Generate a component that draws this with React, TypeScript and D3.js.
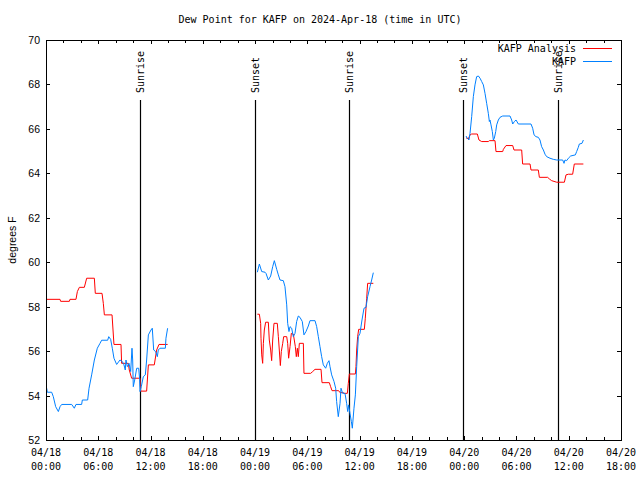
import React from "react";
import * as d3 from "d3";

const START_MS = Date.UTC(2024, 3, 18, 0, 0);
const SPAN_HOURS = 66;

const titleText = "Dew Point for KAFP on 2024-Apr-18 (time in UTC)";
const yLabelText = "degrees F";
const seriesNames = ["KAFP Analysis", "KAFP"];
const seriesColors = ["#ff0000", "#0080ff"];

// hours since 2024-04-18 00:00 UTC
const analysisHours = [
  0.08, 1.61, 1.68, 2.68, 2.75, 3.44, 3.6, 3.83, 4.4, 4.67, 5.55, 5.66, 6.43, 6.58, 6.7, 7.58, 7.8, 8.61, 8.68, 9.45,
  9.56, 9.83, 10.79, 10.87, 11.55, 11.75, 12.43, 12.7, 12.97, 13.96,
  24.26, 24.49, 24.64, 24.68, 24.76, 24.87, 24.95, 25.06, 25.21, 25.52, 25.63, 25.79, 25.9, 26.02, 26.17, 26.55, 26.67,
  26.78, 26.9, 27.01, 27.17, 27.28, 27.63, 27.74, 27.85, 28.01, 28.16, 28.39, 28.5, 28.62, 28.73, 28.85, 28.96, 29.08,
  29.54, 29.61, 30.38, 30.61, 30.88, 31.57, 31.68, 32.52, 32.67, 32.83, 33.59, 33.75, 34.13, 34.21, 34.59, 34.7, 34.82,
  35.51, 35.58, 35.66, 35.77, 35.89, 36.54, 36.65, 36.81, 36.92, 37.57,
  48.21, 48.48, 48.67, 48.86, 49.51, 49.7, 50.01, 50.77, 50.89, 51.54, 51.65, 52.42, 52.5, 52.8, 53.57, 53.72, 54.6,
  54.71, 55.56, 55.67, 56.51, 56.63, 57.58, 57.77, 58.04, 58.62, 59.5, 59.69, 59.96, 60.45, 60.64, 61.68,
];
const analysisValues = [
  58.33, 58.33, 58.24, 58.24, 58.33, 58.33, 58.68, 58.87, 58.87, 59.28, 59.28, 58.6, 58.6, 58.15, 57.63, 57.63, 56.3,
  56.3, 55.45, 55.45, 55.15, 54.78, 54.78, 54.2, 54.2, 55.38, 55.38, 56.05, 56.3, 56.3,
  57.66, 57.66, 57.25, 56.58, 55.83, 55.45, 56.35, 56.95, 57.3, 57.3, 56.5, 56.05, 55.57, 56.5, 57.25, 57.25, 56.65,
  56.05, 55.35, 55.98, 56.35, 56.65, 56.65, 56.35, 55.68, 56.2, 56.8, 56.76, 56.5, 56.2, 55.75, 56.13, 55.75, 56.35,
  56.35, 55.0, 55.0, 55.08, 55.18, 55.18, 54.58, 54.58, 54.4, 54.22, 54.22, 54.13, 54.13, 54.1, 54.1, 54.55, 54.97,
  54.97, 55.3, 56.05, 56.65, 56.98, 56.98, 57.48, 58.38, 59.05, 59.05,
  65.6, 65.55, 65.73, 65.77, 65.77, 65.5, 65.43, 65.43, 65.47, 65.47, 64.98, 64.98, 65.08, 65.25, 65.25, 65.05, 65.05,
  64.42, 64.42, 64.15, 64.15, 63.82, 63.82, 63.75, 63.67, 63.6, 63.6, 63.93, 63.96, 63.96, 64.42, 64.42,
];

const obsHours = [
  0.08, 0.15, 0.65, 0.84, 1.11, 1.42, 1.61, 1.8, 2.95, 3.25, 3.44, 4.09, 4.17, 4.78, 4.94, 5.24, 5.55, 5.89, 6.2, 6.39,
  7.08, 7.2, 7.42, 7.61, 7.8, 8.11, 8.49, 8.76, 8.95, 9.1, 9.18, 9.34, 9.53, 9.72, 9.87, 9.95, 10.02, 10.18, 10.41,
  10.64, 10.75, 10.79, 10.94, 11.17, 11.4, 11.55, 11.75, 12.05, 12.2, 12.36, 12.59, 12.78, 12.89, 13.08, 13.7, 13.77,
  13.96,
  24.26, 24.49, 24.76, 25.14, 25.25, 25.52, 25.79, 26.02, 26.21, 26.48, 26.67, 26.86, 27.24, 27.43, 27.63, 27.74, 27.89,
  28.01, 28.2, 28.39, 28.58, 28.77, 28.96, 29.15, 29.42, 29.61, 29.84, 30.11, 30.3, 30.88, 31.07, 31.26, 31.45, 31.64,
  31.83, 32.1, 32.29, 32.48, 32.6, 32.79, 33.06, 33.25, 33.36, 33.55, 33.75, 33.86, 34.05, 34.32, 34.51, 34.63, 34.74,
  34.89, 35.05, 35.16, 35.35, 35.51, 35.66, 35.85, 36.04, 36.27, 36.5, 36.73, 36.92, 37.19, 37.38, 37.57,
  48.21, 48.36, 48.55, 48.67, 48.86, 49.05, 49.24, 49.43, 49.63, 49.82, 50.01, 50.2, 50.39, 50.58, 50.77, 50.89, 50.96,
  51.08, 51.23, 51.35, 51.46, 51.62, 51.73, 51.92, 52.11, 52.42, 53.26, 53.45, 53.57, 53.76, 53.95, 54.22, 55.67, 55.86,
  56.02, 56.24, 56.51, 56.7, 56.89, 57.09, 57.28, 57.47, 57.85, 58.23, 58.62, 59.31, 59.46, 59.57, 59.76, 59.96, 60.22,
  60.76, 60.91, 61.1, 61.22, 61.52, 61.68,
];
const obsValues = [
  54.33, 54.15, 54.15, 53.95, 53.5, 53.28, 53.5, 53.6, 53.6, 53.43, 53.6, 53.6, 53.8, 53.8, 54.33, 54.93, 55.6, 56.13,
  56.35, 56.49, 56.49, 56.65, 56.53, 56.13, 55.68, 55.4, 55.6, 55.53, 55.38, 55.15, 55.6, 55.3, 55.45, 55.08, 56.13, 55.6,
  54.4, 54.7, 55.23, 55.23, 54.73, 54.18, 54.4, 54.85, 54.93, 55.6, 56.73, 56.95, 57.03, 56.05, 55.98, 55.75, 56.05,
  56.13, 56.13, 56.58, 57.03,
  59.55, 59.92, 59.58, 59.55, 59.5, 59.2, 59.38, 59.8, 60.07, 59.68, 59.43, 59.2, 59.17, 58.9, 58.08, 57.25, 56.88, 57.1,
  57.03, 56.65, 56.8, 57.33, 57.58, 57.52, 57.33, 56.73, 56.88, 57.13, 57.37, 57.37, 57.1, 56.65, 56.2, 55.75, 55.38,
  55.23, 55.45, 55.57, 55.3, 54.93, 54.63, 54.33, 53.73, 53.05, 53.65, 54.33, 54.1, 54.1, 53.65, 53.28, 53.58, 53.2,
  52.83, 52.53, 53.43, 54.03, 55.3, 56.65, 56.8, 57.4, 57.93, 57.97, 58.45, 58.9, 59.2, 59.53,
  65.68, 65.58, 65.5, 65.8, 66.55, 67.45, 67.98, 68.35, 68.38, 68.28, 68.13, 67.98, 67.6, 67.15, 66.7, 66.33, 66.4,
  66.18, 65.88, 65.5, 65.58, 65.88, 66.18, 66.4, 66.52, 66.58, 66.58, 66.4, 66.22, 66.33, 66.4, 66.22, 66.22, 66.03,
  65.73, 65.65, 65.62, 65.5, 65.2, 65.05, 64.86, 64.75, 64.68, 64.63, 64.6, 64.6, 64.45, 64.6, 64.57, 64.68, 64.78,
  64.83, 64.98, 65.17, 65.32, 65.35, 65.5,
];

const sunriseHours = [10.82, 34.8, 58.8];
const sunsetHours = [23.97, 47.9];
const yTickValues = [52, 54, 56, 58, 60, 62, 64, 66, 68, 70];

const W = 640;
const H = 480;
const LEFT = 46;
const RIGHT = 621;
const TOP = 40;
const BOTTOM = 440;
const MONO = "'DejaVu Sans Mono', 'Liberation Mono', monospace";
const SANS = "'Liberation Sans', Arial, sans-serif";

const toDate = (h: number) => new Date(START_MS + h * 3600 * 1000);

function segments(hours: number[], values: number[]) {
  const segs: [Date, number][][] = [];
  let cur: [Date, number][] = [];
  hours.forEach((h, i) => {
    if (i > 0 && h - hours[i - 1] > 3) {
      segs.push(cur);
      cur = [];
    }
    cur.push([toDate(h), values[i]]);
  });
  if (cur.length) segs.push(cur);
  return segs;
}

export default function App() {
  const x = d3.scaleUtc().domain([toDate(0), toDate(SPAN_HOURS)]).range([LEFT, RIGHT]);
  const y = d3.scaleLinear().domain([52, 70]).range([BOTTOM, TOP]);
  const line = d3
    .line<[Date, number]>()
    .x((d) => x(d[0]))
    .y((d) => y(d[1]));

  const majorTicks = x.ticks(d3.utcHour.every(6)!);
  const minorTicks = x.ticks(d3.utcHour.every(2)!);
  const fmtDate = d3.utcFormat("%m/%d");
  const fmtTime = d3.utcFormat("%H:%M");

  const series = [
    { name: seriesNames[0], color: seriesColors[0], segs: segments(analysisHours, analysisValues) },
    { name: seriesNames[1], color: seriesColors[1], segs: segments(obsHours, obsValues) },
  ];

  const sunLines = [
    ...sunriseHours.map((h) => ({ h, label: "Sunrise" })),
    ...sunsetHours.map((h) => ({ h, label: "Sunset" })),
  ];

  const px = (v: number) => Math.round(v) + 0.5;

  return (
    <svg
      width={W}
      height={H}
      viewBox={`0 0 ${W} ${H}`}
      style={{ position: "absolute", left: 0, top: 0, background: "#fff" }}
    >
      <rect x={0} y={0} width={W} height={H} fill="#fff" />
      <text x={320} y={23} textAnchor="middle" fontFamily={MONO} fontSize={10} fill="#000">
        {titleText}
      </text>

      {/* minor x ticks */}
      {minorTicks.map((t, i) => (
        <g key={"mx" + i} stroke="#000" strokeWidth={1} shapeRendering="crispEdges">
          <line x1={px(x(t))} x2={px(x(t))} y1={BOTTOM} y2={BOTTOM - 3} />
          <line x1={px(x(t))} x2={px(x(t))} y1={TOP} y2={TOP + 3} />
        </g>
      ))}
      {majorTicks.map((t, i) => (
        <g key={"Mx" + i}>
          <line x1={px(x(t))} x2={px(x(t))} y1={BOTTOM} y2={BOTTOM - 4} stroke="#000" shapeRendering="crispEdges" />
          <line x1={px(x(t))} x2={px(x(t))} y1={TOP} y2={TOP + 4} stroke="#000" shapeRendering="crispEdges" />
          <text x={x(t)} y={456} textAnchor="middle" fontFamily={MONO} fontSize={10} fill="#000">
            {fmtDate(t)}
          </text>
          <text x={x(t)} y={470} textAnchor="middle" fontFamily={MONO} fontSize={10} fill="#000">
            {fmtTime(t)}
          </text>
        </g>
      ))}

      {/* y ticks */}
      {yTickValues.map((v) => (
        <g key={"y" + v}>
          <line x1={LEFT} x2={LEFT + 4} y1={px(y(v))} y2={px(y(v))} stroke="#000" shapeRendering="crispEdges" />
          <line x1={RIGHT - 4} x2={RIGHT} y1={px(y(v))} y2={px(y(v))} stroke="#000" shapeRendering="crispEdges" />
          <text x={40} y={y(v) + 4} textAnchor="end" fontFamily={SANS} fontSize={10.5} fill="#000">
            {v}
          </text>
        </g>
      ))}
      <text
        transform={`translate(16, 240) rotate(-90)`}
        textAnchor="middle"
        fontFamily={SANS}
        fontSize={10.5}
        fill="#000"
      >
        {yLabelText}
      </text>

      {/* sunrise / sunset markers */}
      {sunLines.map((s, i) => (
        <g key={"s" + i}>
          <line
            x1={px(x(toDate(s.h)))}
            x2={px(x(toDate(s.h)))}
            y1={100}
            y2={BOTTOM}
            stroke="#000"
            strokeWidth={1.2}
          />
          <text
            transform={`translate(${x(toDate(s.h)) + 4}, 93) rotate(-90)`}
            fontFamily={MONO}
            fontSize={10}
            fill="#000"
          >
            {s.label}
          </text>
        </g>
      ))}

      {/* data */}
      {series.map((s) =>
        s.segs.map((seg, j) => (
          <path key={s.name + j} d={line(seg) || ""} fill="none" stroke={s.color} strokeWidth={1} />
        ))
      )}

      {/* legend */}
      {series.map((s, i) => (
        <g key={"lg" + i}>
          <text x={576} y={52 + i * 13} textAnchor="end" fontFamily={MONO} fontSize={10} fill="#000">
            {s.name}
          </text>
          <line
            x1={583}
            x2={612}
            y1={48.5 + i * 13}
            y2={48.5 + i * 13}
            stroke={s.color}
            strokeWidth={1}
            shapeRendering="crispEdges"
          />
        </g>
      ))}

      <rect
        x={LEFT + 0.5}
        y={TOP + 0.5}
        width={RIGHT - LEFT}
        height={BOTTOM - TOP}
        fill="none"
        stroke="#000"
        strokeWidth={1}
        shapeRendering="crispEdges"
      />
    </svg>
  );
}
